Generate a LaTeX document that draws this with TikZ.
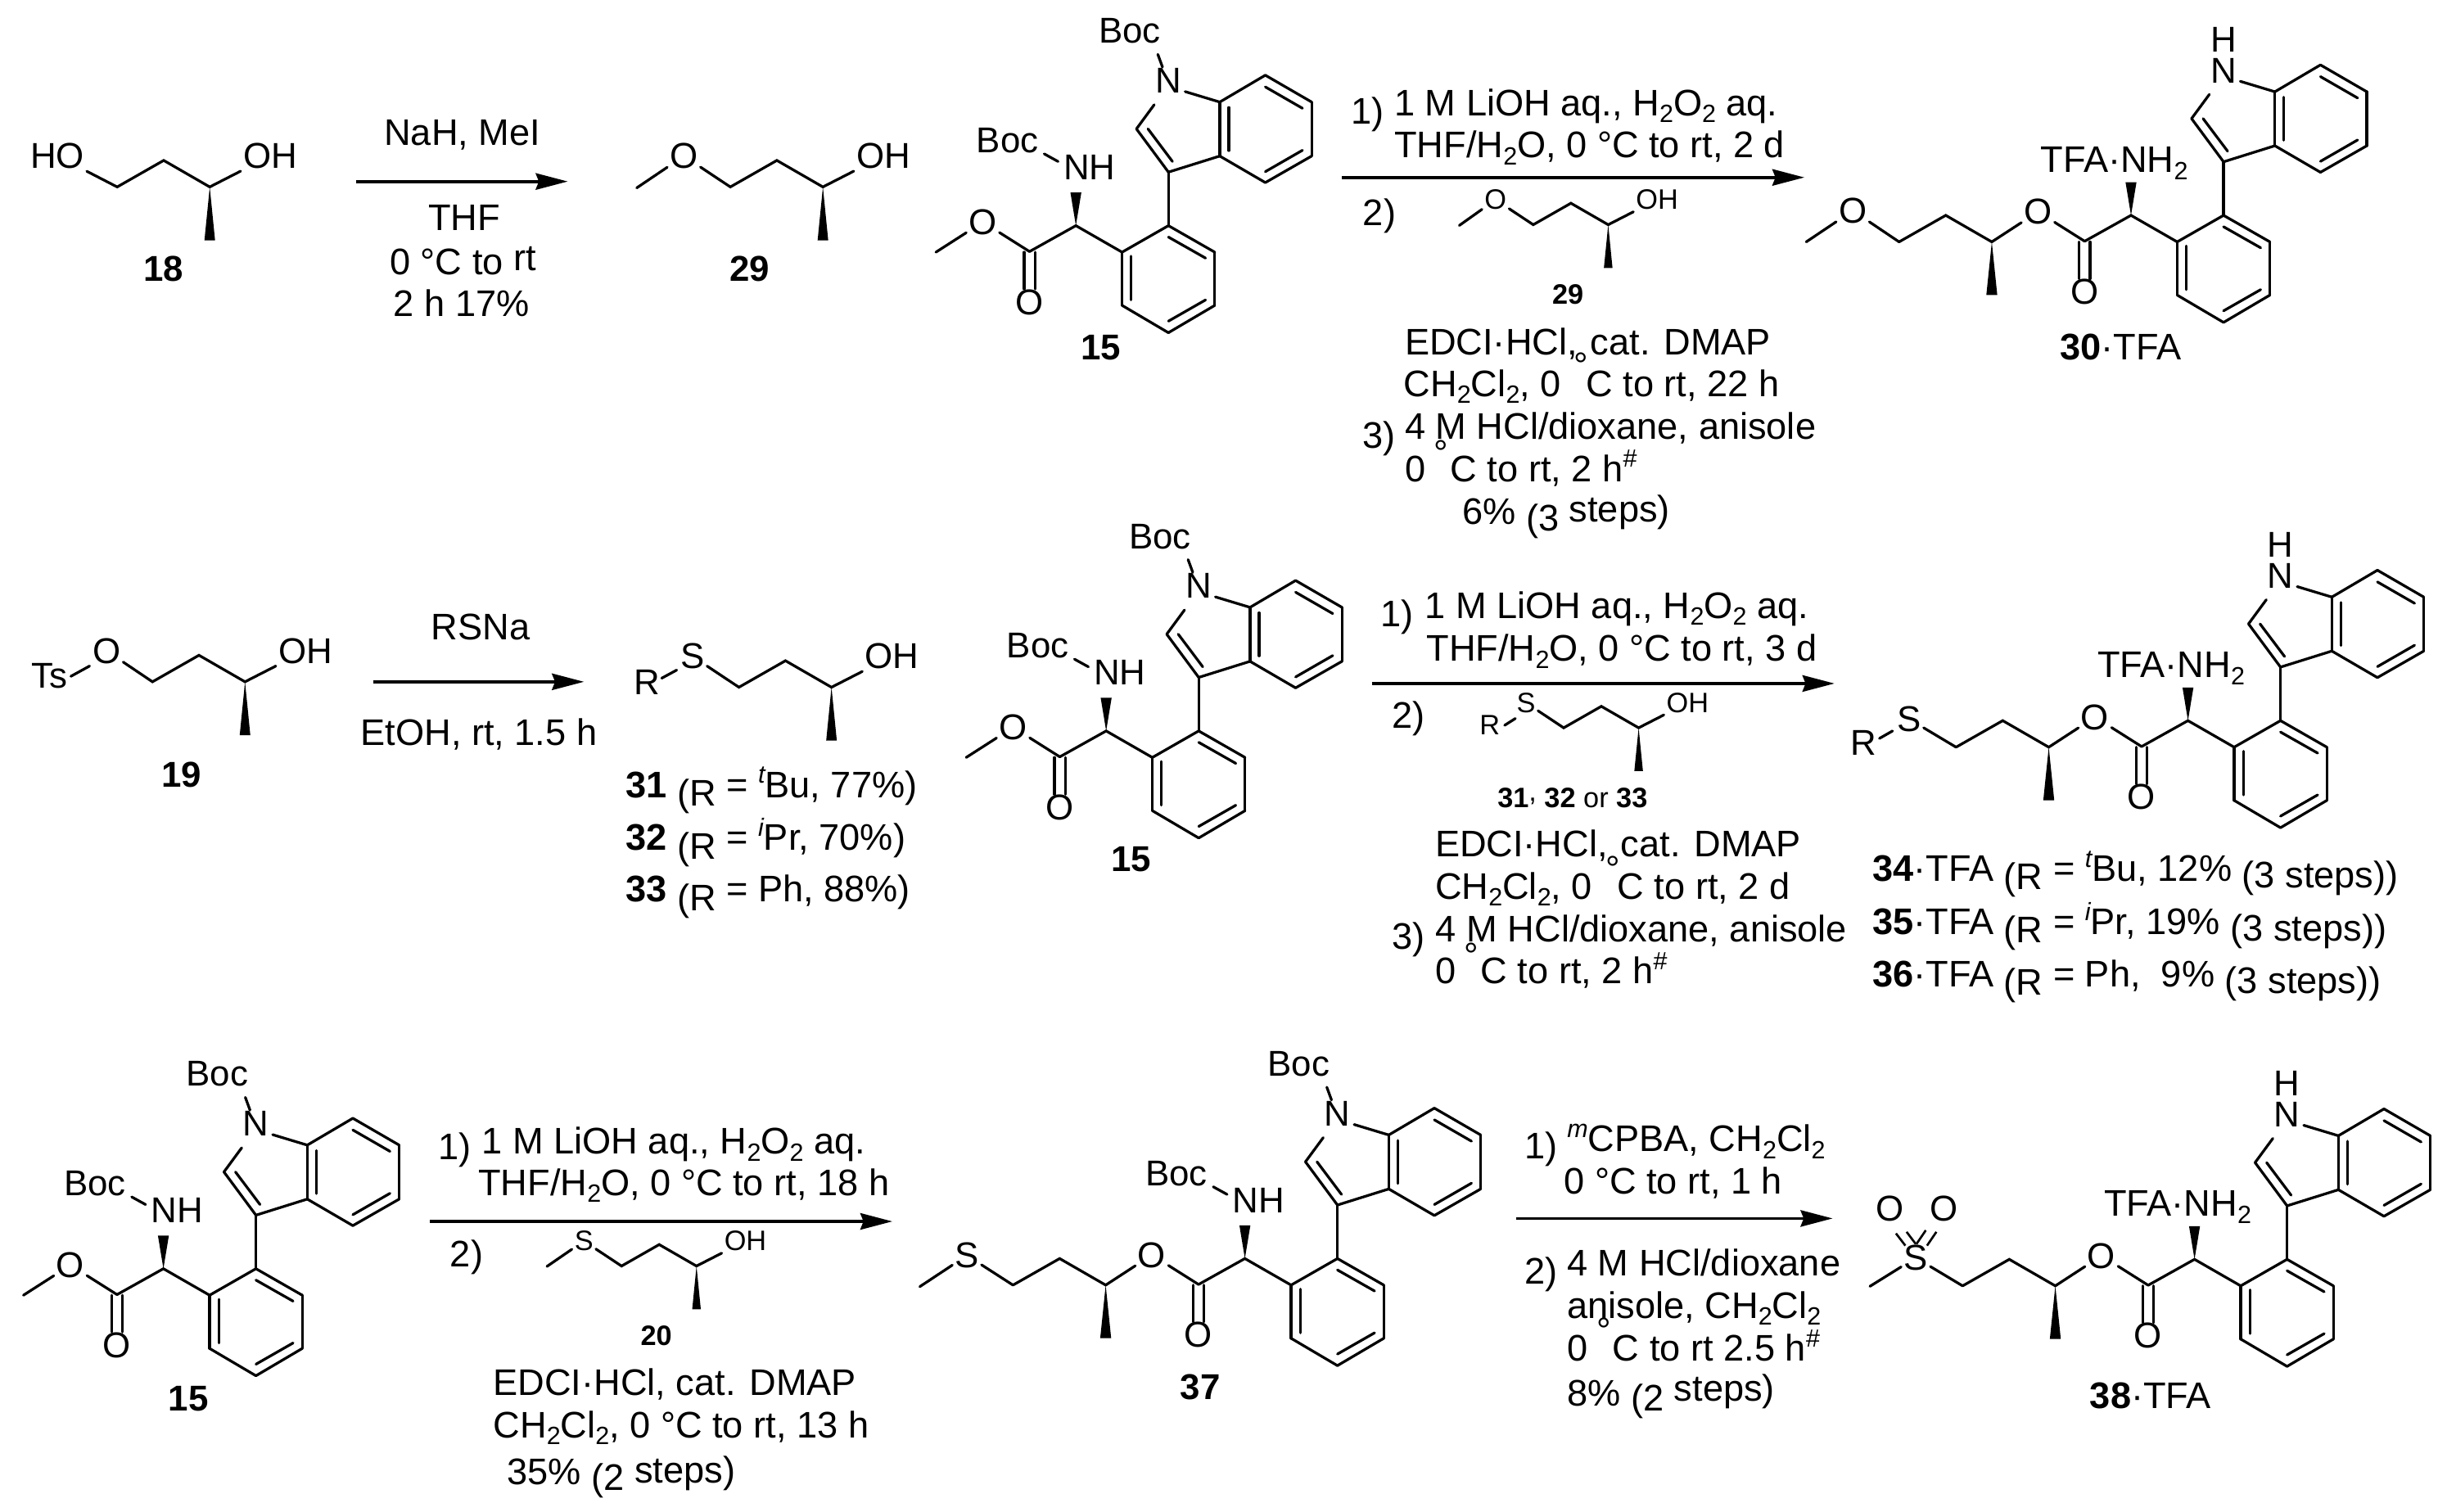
\documentclass[tikz,border=0pt]{standalone}
\usepackage{fontspec}
\setmainfont{Liberation Sans}
\usetikzlibrary{arrows.meta}
\usetikzlibrary{calc}
\newcommand{\basefont}{\fontsize{23}{27}\selectfont}
\newcommand{\reagentfont}{\fontsize{23.7}{27}\selectfont}
\newcommand{\insertfont}{\fontsize{18}{20}\selectfont}
\newcommand{\lowidx}[1]{\raisebox{-4.5pt}{\fontsize{16}{16}\selectfont #1}}
\newcommand{\highidx}[1]{\raisebox{9pt}{\fontsize{16}{16}\selectfont #1}}
\newcommand{\nodeg}{\phantom{°}}
\tikzstyle{bond_line} = [
    line width=1.7pt, 
    line cap=round
]
\tikzstyle{rxn_arrow} = [
    line width=1.9pt, 
    -{Stealth[length=20.5pt, width=10.5pt, inset=2pt]}
]
\tikzstyle{atom_label} = [
    font=\basefont, 
    inner sep=1.5pt
]
\tikzstyle{rxn_text} = [
    font=\reagentfont, 
    anchor=base west, 
    inner sep=0pt
]
\tikzstyle{cmpd_label} = [
    font=\basefont\bfseries, 
    anchor=base, 
    inner sep=0pt
]
\tikzstyle{insert_label} = [
    font=\insertfont, 
    anchor=base, 
    inner sep=0pt
]
\tikzstyle{deg_mark} = [
    font=\basefont, 
    anchor=north, 
    inner sep=0pt
]
\newcommand{\wedgebond}[3]{\fill (#1) -- ($(#2)+(#3,0)$) -- ($(#2)-(#3,0)$) -- cycle;}
% aryl ring and indole, origin at the ring carbon below the indole
\newcommand{\arylindole}[1]{
    \foreach \atm/\px/\py in {a1/0/0, a2/29.7/17, a3/29.7/51.1, a4/0/68.6, a5/-29.7/51.1, a6/-29.7/17,
        i1/0/7.3, i2/23.8/20.8, i3/23.8/47.6, i4/0/61.2, i5/-23.8/19.6, i6/-23.8/47.6,
        c3/0/-34.3, c2/-20.5/-62, c3a/32.9/-44.6, c7a/32.9/-79.2, c7/62.1/-96.4, c6/91.8/-79.2,
        c5/91.8/-44.6, c4/62.1/-27.6, d1/-13.1/-62, d2/2.6/-41.1, d3/38.7/-75.7, d4/38.7/-48.1,
        d5/62.1/-88.9, d6/85.9/-75.2, d7/85.9/-48.3, d8/62.1/-34.6, na/10.7/-85.9, nb/-9.1/-77.5}
        \coordinate (#1\atm) at (\px,\py);
    \node[atom_label] (#1N) at (0,-92.9) {N};
    \foreach \u/\v in {a1/a2, a2/a3, a3/a4, a4/a5, a5/a6, a6/a1, i1/i2, i3/i4, i5/i6, a1/c3, c3/c2, 
        c3/c3a, c3a/c7a, c7a/c7, c7/c6, c6/c5, c5/c4, c4/c3a, d1/d2, d3/d4, d5/d6, d7/d8, na/c7a, nb/c2}
        \draw[bond_line] (#1\u) -- (#1\v);
}
\newcommand{\bocindole}[1]{
    \node[atom_label] (#1nboc) at (-24.8,-124.7) {Boc};
    \coordinate (#1nba) at (-6.8,-109.8);
    \coordinate (#1nbb) at (-3.8,-101.6);
    \draw[bond_line] (#1nba) -- (#1nbb);
}
\newcommand{\hindole}[1]{
    \node[atom_label] (#1H) at (0,-112.6) {H};
}
% alpha carbon with the carbonyl and the ester oxygen
\newcommand{\acidcore}[1]{
    \foreach \atm/\px/\py in {al/-59.3/0, wt/-59.3/-21.2, co/-89/16.6, ola/-92.5/17, olb/-92.5/40.6, 
        ora/-85.5/17, orb/-85.5/40.6}
        \coordinate (#1\atm) at (\px,\py);
    \node[atom_label] (#1oc) at (-89,49) {O};
    \node[atom_label] (#1oe) at (-118.9,-2.3) {O};
    \wedgebond{#1al}{#1wt}{3.5}
    \draw[bond_line] (#1a6) -- (#1al) -- (#1co);
    \draw[bond_line] (#1co) -- (#1oe);
    \draw[bond_line] (#1ola) -- (#1olb);
    \draw[bond_line] (#1ora) -- (#1orb);
}
\newcommand{\bocamine}[1]{
    \node[atom_label] (#1nh) at (-50.6,-37.5) {NH};
    \node[atom_label] (#1boc) at (-103.1,-54.5) {Boc};
    \coordinate (#1hba) at (-79.6,-46);
    \coordinate (#1hbb) at (-70.7,-41.1);
    \draw[bond_line] (#1hba) -- (#1hbb);
}
\newcommand{\methylester}[1]{
    \coordinate (#1me) at (-149,17);
    \draw[bond_line] (#1oe) -- (#1me);
}
\newcommand{\tfaamine}[1]{
    \node[rxn_text] (#1tfa) at (-117.5,-27.5) {TFA·NH\lowidx{2}};
}
% butyl chain of the ester products
\newcommand{\esterchain}[1]{
    \foreach \atm/\px/\py in {ch/-148.5/17, wb/-148.5/51, cb/-178/0, ca/-207.9/17}
        \coordinate (#1\atm) at (\px,\py);
    \wedgebond{#1ch}{#1wb}{3.5}
    \draw[bond_line] (#1oe) -- (#1ch) -- (#1cb) -- (#1ca);
}
% secondary alcohol chain, origin at the carbinol carbon
\newcommand{\alcohol}[3]{
    \foreach \atm/\px/\py in {ch/0/0, wb/0/34.2, cb/-29.5/-17, ca/-59.3/0}
        \coordinate (#1\atm) at (\px,\py);
    \node[atom_label] (#1oh) at (38.7,-19.8) {OH};
    \node[atom_label] (#1x) at (#2,-19.8) {#3};
    \wedgebond{#1ch}{#1wb}{3.4}
    \draw[bond_line] (#1oh) -- (#1ch) -- (#1cb) -- (#1ca) -- (#1x);
}
\begin{document}
\begin{tikzpicture}[x=1pt, y=-1pt]
\useasboundingbox (0,0) rectangle (1568,968.4);

% first row
\begin{scope}[shift={(134.4,119.8)}]
    \alcohol{ea}{-97.7}{HO}
\end{scope}
\begin{scope}[shift={(527.3,119.8)}]
    \alcohol{nn}{-89.1}{O}
    \coordinate (nnme) at (-119.3,0.6);
    \draw[bond_line] (nnx) -- (nnme);
\end{scope}
\node[cmpd_label] (lab18) at (104.9,180) {18};
\node[cmpd_label] (lab29) at (480.5,180) {29};
\coordinate (arr1s) at (228.3,116.3);
\coordinate (arr1e) at (363.8,116.3);
\draw[rxn_arrow] (arr1s) -- (arr1e);
\node[rxn_text] (ra1) at (246,93) {NaH, MeI};
\node[rxn_text] (ra2) at (274.3,147.8) {THF};
\node[rxn_text] (ra3) at (249.6,175.8) {0 °C to \raisebox{2.6pt}{rt}};
\node[rxn_text] (ra4) at (252,202.6) {2 h 17\%};

\begin{scope}[shift={(748.7,144.6)}]
    \arylindole{ta} \bocindole{ta} \acidcore{ta} \bocamine{ta} \methylester{ta}
\end{scope}
\node[cmpd_label] (lab15a) at (705.3,230.7) {15};
\coordinate (arr2s) at (859.8,113.7);
\coordinate (arr2e) at (1156.2,113.7);
\draw[rxn_arrow] (arr2s) -- (arr2e);
\node[rxn_text] (rb0) at (865.5,79.5) {1)};
\node[rxn_text] (rb1) at (893.3,74) {1 M LiOH aq., H\lowidx{2}O\lowidx{2} aq.};
\node[rxn_text] (rb2) at (893.3,101) {THF/H\lowidx{2}O, 0 °C to rt, 2 d};
\node[rxn_text] (rb3) at (873.2,144.6) {2)};
\begin{scope}[shift={(1030.5,144)}, scale=.81, atom_label/.append style={font=\insertfont}]
    \alcohol{ia}{-89.1}{O}
    \coordinate (iame) at (-117.8,0.6);
    \draw[bond_line] (iax) -- (iame);
\end{scope}
\node[insert_label] (lab29b) at (1004.7,194.7) {\bfseries 29};
\node[rxn_text] (rb4) at (900,227.4) {EDCI·HCl,\nodeg\hspace{-1pt}cat. DMAP};
\node[deg_mark] (dg1) at (1013.1,226) {°};
\node[rxn_text] (rb5) at (899.3,254) {CH\lowidx{2}Cl\lowidx{2}, 0 \nodeg C to rt, 22 h};
\node[rxn_text] (rb6) at (873,287) {3)};
\node[rxn_text] (rb7) at (900,281.5) {4 M HCl/dioxane, anisole};
\node[deg_mark] (dg2) at (923.4,281.8) {°};
\node[rxn_text] (rb8) at (900,308.5) {0 \nodeg C to rt, 2 h\highidx{\#}};
\node[rxn_text] (rb9) at (936.8,336) {6\% \raisebox{-4pt}{(3} \raisebox{1.5pt}{steps)}};

\begin{scope}[shift={(1424.8,138)}]
    \arylindole{tb} \hindole{tb} \acidcore{tb} \tfaamine{tb} \esterchain{tb}
    \node[atom_label] (tbo) at (-237.6,-3) {O};
    \coordinate (tbme) at (-267.4,17);
    \draw[bond_line] (tbca) -- (tbo) -- (tbme);
\end{scope}
\node[rxn_text] (lab30) at (1319.8,230.7) {\textbf{30}·TFA};

% second row
\begin{scope}[shift={(157,436.9)}]
    \alcohol{ma}{-88.7}{O}
    \node[atom_label] (mats) at (-125.5,-3.6) {Ts};
    \coordinate (maba) at (-111.6,-3.5);
    \coordinate (mabb) at (-99.6,-10.1);
    \draw[bond_line] (maba) -- (mabb);
\end{scope}
\node[cmpd_label] (lab19) at (116.4,504.6) {19};
\coordinate (arr3s) at (239.3,436.9);
\coordinate (arr3e) at (374.2,436.9);
\draw[rxn_arrow] (arr3s) -- (arr3e);
\node[rxn_text] (rc1) at (276.2,410.2) {RSNa};
\node[rxn_text] (rc2) at (230.9,477.5) {EtOH, rt, 1.5 h};
\begin{scope}[shift={(532.8,440.4)}]
    \alcohol{mb}{-89.1}{S}
    \node[atom_label] (mbr) at (-118,-3.4) {R};
    \coordinate (mbba) at (-108.8,-5.8);
    \coordinate (mbbb) at (-99.2,-11);
    \draw[bond_line] (mbba) -- (mbbb);
\end{scope}
\node[rxn_text] (lab31) at (400.7,511) {\textbf{31} \raisebox{-5.5pt}{(R} = \highidx{\itshape t}Bu, 77\%)};
\node[rxn_text] (lab32) at (400.7,544.8) {\textbf{32} \raisebox{-5.5pt}{(R} = \highidx{\itshape i}Pr, 70\%)};
\node[rxn_text] (lab33) at (400.7,578) {\textbf{33} \raisebox{-5.5pt}{(R} = Ph, 88\%)};

\begin{scope}[shift={(768.1,468.4)}]
    \arylindole{mc} \bocindole{mc} \acidcore{mc} \bocamine{mc} \methylester{mc}
\end{scope}
\node[cmpd_label] (lab15b) at (724.9,558.5) {15};
\coordinate (arr4s) at (879,438);
\coordinate (arr4e) at (1175.5,438);
\draw[rxn_arrow] (arr4s) -- (arr4e);
\node[rxn_text] (rd0) at (884.6,401.5) {1)};
\node[rxn_text] (rd1) at (912.9,396.1) {1 M LiOH aq., H\lowidx{2}O\lowidx{2} aq.};
\node[rxn_text] (rd2) at (913.9,423.6) {THF/H\lowidx{2}O, 0 °C to rt, 3 d};
\node[rxn_text] (rd3) at (892,466.8) {2)};
\begin{scope}[shift={(1050,466.4)}, scale=.81, atom_label/.append style={font=\insertfont}]
    \alcohol{ib}{-89.1}{S}
    \node[atom_label] (ibr) at (-117.7,-2) {R};
    \coordinate (ibba) at (-106,-2);
    \coordinate (ibbb) at (-97.5,-7.4);
    \draw[bond_line] (ibba) -- (ibbb);
\end{scope}
\node[insert_label, anchor=base west] (lab31b) at (959.4,517.4) {\textbf{31}\raisebox{4pt}{,} \textbf{32} or \textbf{33}};
\node[rxn_text] (rd4) at (919.4,549.1) {EDCI·HCl,\nodeg\hspace{-1pt}cat. DMAP};
\node[deg_mark] (dg3) at (1033.7,548.6) {°};
\node[rxn_text] (rd5) at (919.4,576.2) {CH\lowidx{2}Cl\lowidx{2}, 0 \nodeg C to rt, 2 d};
\node[rxn_text] (rd6) at (892,608.3) {3)};
\node[rxn_text] (rd7) at (919.9,603.3) {4 M HCl/dioxane, anisole};
\node[deg_mark] (dg4) at (942.7,603.8) {°};
\node[rxn_text] (rd8) at (919.4,630.4) {0 \nodeg C to rt, 2 h\highidx{\#}};

\begin{scope}[shift={(1461.3,461.8)}]
    \arylindole{mf} \hindole{mf} \acidcore{mf} \tfaamine{mf} \esterchain{mf}
    \node[atom_label] (mfs) at (-238,-1) {S};
    \node[atom_label] (mfr) at (-267.3,14) {R};
    \coordinate (mfba) at (-257,11.4);
    \coordinate (mfbb) at (-248.6,6.6);
    \draw[bond_line] (mfca) -- (mfs);
    \draw[bond_line] (mfba) -- (mfbb);
\end{scope}
\node[rxn_text] (lab34) at (1199.6,564.8) {\textbf{34}·TFA \raisebox{-5pt}{(R} = \highidx{\itshape t}Bu, 12\% \raisebox{-4pt}{(3 steps))}};
\node[rxn_text] (lab35) at (1199.6,598.9) {\textbf{35}·TFA \raisebox{-5pt}{(R} = \highidx{\itshape i}Pr, 19\% \raisebox{-4pt}{(3 steps))}};
\node[rxn_text] (lab36) at (1199.6,632.4) {\textbf{36}·TFA \raisebox{-5pt}{(R} = Ph, \ 9\% \raisebox{-4pt}{(3 steps))}};

% third row
\begin{scope}[shift={(164,813)}]
    \arylindole{ba} \bocindole{ba} \acidcore{ba} \bocamine{ba} \methylester{ba}
\end{scope}
\node[cmpd_label] (lab15c) at (120.8,904) {15};
\coordinate (arr5s) at (275.4,782.7);
\coordinate (arr5e) at (571.8,782.7);
\draw[rxn_arrow] (arr5s) -- (arr5e);
\node[rxn_text] (re0) at (280.6,743.3) {1)};
\node[rxn_text] (re1) at (308.6,739.4) {1 M LiOH aq., H\lowidx{2}O\lowidx{2} aq.};
\node[rxn_text] (re2) at (306.3,765.9) {THF/H\lowidx{2}O, 0 °C to rt, 18 h};
\node[rxn_text] (re3) at (288.3,811.9) {2)};
\begin{scope}[shift={(446.3,811.3)}, scale=.81, atom_label/.append style={font=\insertfont}]
    \alcohol{ic}{-89.1}{S}
    \coordinate (icme) at (-118.3,0.3);
    \draw[bond_line] (icx) -- (icme);
\end{scope}
\node[insert_label] (lab20) at (420.5,862.3) {\bfseries 20};
\node[rxn_text] (re4) at (315.9,894.2) {EDCI·HCl, cat. DMAP};
\node[rxn_text] (re5) at (315.9,921.3) {CH\lowidx{2}Cl\lowidx{2}, 0 °C to rt, 13 h};
\node[rxn_text] (re6) at (324.8,951.1) {35\% \raisebox{-4pt}{(2} \raisebox{1pt}{steps)}};

\begin{scope}[shift={(857,806.5)}]
    \arylindole{bb} \bocindole{bb} \acidcore{bb} \bocamine{bb} \esterchain{bb}
    \node[atom_label] (bbs) at (-237.4,-2) {S};
    \coordinate (bbme) at (-267.6,18);
    \draw[bond_line] (bbca) -- (bbs) -- (bbme);
\end{scope}
\node[cmpd_label] (lab37) at (769.1,897) {37};
\coordinate (arr6s) at (971.5,780.8);
\coordinate (arr6e) at (1174.3,780.8);
\draw[rxn_arrow] (arr6s) -- (arr6e);
\node[rxn_text] (rf0) at (977,742.3) {1)};
\node[rxn_text] (rf1) at (1004,737.8) {\highidx{\itshape m}CPBA, CH\lowidx{2}Cl\lowidx{2}};
\node[rxn_text] (rf2) at (1002,764.9) {0 °C to rt, 1 h};
\node[rxn_text] (rf3) at (977,822.7) {2)};
\node[rxn_text] (rf4) at (1004,817.8) {4 M HCl/dioxane};
\node[rxn_text] (rf5) at (1004,844.8) {anisole, CH\lowidx{2}Cl\lowidx{2}};
\node[deg_mark] (dg5) at (1027.9,844.1) {°};
\node[rxn_text] (rf6) at (1004,872.3) {0 \nodeg C to rt 2.5 h\highidx{\#}};
\node[rxn_text] (rf7) at (1004,901) {8\% \raisebox{-3pt}{(2} \raisebox{3pt}{steps)}};

\begin{scope}[shift={(1465.5,807)}]
    \arylindole{bc} \hindole{bc} \acidcore{bc} \tfaamine{bc} \esterchain{bc}
    \node[atom_label] (bcs) at (-237.9,-1) {S};
    \node[atom_label] (bcoa) at (-254.6,-32.3) {O};
    \node[atom_label] (bcob) at (-220,-32.3) {O};
    \coordinate (bcme) at (-267.3,17.3);
    \draw[bond_line] (bcca) -- (bcs) -- (bcme);
    \foreach \xa/\ya/\xb/\yb in {-250.6/-16.6/-244.6/-8.8, -243.8/-17.6/-237.9/-9.8,
        -224.7/-17.6/-230.7/-8.8, -231.5/-18.6/-237.5/-9.8}
        \draw[line width=1.4pt] (\xa,\ya) -- (\xb,\yb);
\end{scope}
\node[rxn_text] (lab38) at (1339,902.5) {\textbf{38}·TFA};
\end{tikzpicture}
\end{document}
